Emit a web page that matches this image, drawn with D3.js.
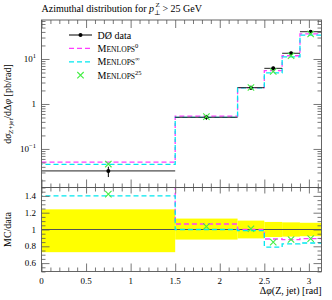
<!DOCTYPE html>
<html><head><meta charset="utf-8">
<script src="https://cdn.jsdelivr.net/npm/d3@7"></script>
<style>body{margin:0;background:#fff}svg{display:block;font-family:"Liberation Serif","DejaVu Serif",serif}</style>
</head><body><svg id="c" width="332" height="300"></svg>
<script>
// ---- data ----
const binEdges=[0,1.5,2.2,2.5,2.7,2.9,Math.PI];
const binCentres=[0.75,1.85,2.35,2.6,2.8,3.02];
const dataVals=[0.0325,0.506,2.3,6.2,13.4,40.4];
const dataErrUp=[0.24,0.13,0.106,0.09,0.085,0.08];   // relative
const dataErrDn=[0.27,0.12,0.106,0.09,0.085,0.08];   // relative
const mc0Vals=[0.0507,0.539,2.3,5.5,11.8,36.0];
const mcInfVals=[0.0455,0.506,2.27,4.9,11.1,33.9];
const mc25Vals=[0.0462,0.524,2.32,5.27,11.8,36.0];
const xMajorTicks=[0,0.5,1,1.5,2,2.5,3];
const yMajorTicks=[10,1,0.1];
const yMajorBase=["10","1","10"];
const yMajorExp=["1","","−1"];
const ratioTicks=[0.6,0.8,1,1.2,1.4];

const svg=d3.select("#c");
const L=41.5,R=321.5,T1=20,B1=187.5,T2=187.5,B2=271.5;
const x=d3.scaleLinear().domain([0,Math.PI]).range([L,R]);
const y=d3.scaleLog().domain([0.0139,73.6]).range([B1,T1]);
const yr=d3.scaleLinear().domain([0.5,1.5]).range([B2,T2]);
const C0="#ff3cff",CI="#00e8f0",C25="#44ee44",AX="#555";

const defs=svg.append("defs");
defs.append("clipPath").attr("id","cp1").append("rect").attr("x",L).attr("y",T1).attr("width",R-L).attr("height",B1-T1);
defs.append("clipPath").attr("id","cp2").append("rect").attr("x",L).attr("y",T2).attr("width",R-L).attr("height",B2-T2);

const bins=dataVals.map((v,i)=>({i,lo:binEdges[i],hi:binEdges[i+1],c:binCentres[i],v}));

function stepPath(vals,ys){
  let p="";
  vals.forEach((v,i)=>{
    const x0=x(binEdges[i]),x1=x(binEdges[i+1]),yy=ys(v);
    p+=(i===0?"M":"L")+x0+","+yy+"L"+x1+","+yy;
  });
  return p;
}
function cross(g,cx,cy){
  const s=3.2;
  g.append("path").attr("d",`M${cx-s},${cy-s}L${cx+s},${cy+s}M${cx-s},${cy+s}L${cx+s},${cy-s}`)
   .attr("stroke",C25).attr("stroke-width",1.1).attr("fill","none");
}

// ---- top panel ----
const g1=svg.append("g").attr("clip-path","url(#cp1)");
g1.append("path").attr("d",stepPath(mc0Vals,y)).attr("fill","none").attr("stroke",C0).attr("stroke-width",1.3).attr("stroke-dasharray","5,3");
g1.append("path").attr("d",stepPath(mcInfVals,y)).attr("fill","none").attr("stroke",CI).attr("stroke-width",1.3).attr("stroke-dasharray","5,3").attr("stroke-dashoffset",4);
bins.forEach(b=>{
  g1.append("line").attr("x1",x(b.lo)).attr("x2",x(b.hi)).attr("y1",y(b.v)).attr("y2",y(b.v)).attr("stroke","#222").attr("stroke-width",1);
  g1.append("line").attr("x1",x(b.c)).attr("x2",x(b.c)).attr("y1",y(b.v*(1+dataErrUp[b.i]))).attr("y2",y(b.v*(1-dataErrDn[b.i]))).attr("stroke","#000").attr("stroke-width",1);
  g1.append("circle").attr("cx",x(b.c)).attr("cy",y(b.v)).attr("r",2).attr("fill","#000");
  cross(g1,x(b.c),y(mc25Vals[b.i]));
});

// ---- ratio panel ----
const g2=svg.append("g").attr("clip-path","url(#cp2)");
bins.forEach(b=>{
  g2.append("rect").attr("x",x(b.lo)).attr("width",x(b.hi)-x(b.lo))
   .attr("y",yr(1+dataErrUp[b.i])).attr("height",yr(1-dataErrDn[b.i])-yr(1+dataErrUp[b.i])).attr("fill","#ffff00");
});
g2.append("line").attr("x1",L).attr("x2",R).attr("y1",yr(1)).attr("y2",yr(1)).attr("stroke","#555").attr("stroke-width",1);
g2.append("path").attr("d",stepPath(mc0Vals.map((v,i)=>v/dataVals[i]),yr)).attr("fill","none").attr("stroke",C0).attr("stroke-width",1.3).attr("stroke-dasharray","5,3");
g2.append("path").attr("d",stepPath(mcInfVals.map((v,i)=>v/dataVals[i]),yr)).attr("fill","none").attr("stroke",CI).attr("stroke-width",1.3).attr("stroke-dasharray","5,3").attr("stroke-dashoffset",4);
bins.forEach(b=>cross(g2,x(b.c),yr(mc25Vals[b.i]/b.v)));

// ---- axes / frames ----
function minorLog(){const a=[];for(let e=-2;e<=1;e++)for(let k=2;k<=9;k++){const v=k*Math.pow(10,e);if(v>=0.0139&&v<=73.6)a.push(v);}return a;}
const xMinor=d3.range(0,3.15,0.1).filter(v=>Math.abs(v*2-Math.round(v*2))>1e-6);
const rMinor=d3.range(0.5,1.501,0.05).filter(v=>Math.abs(v*5-Math.round(v*5))>1e-6);

function ticks(axisFn,scale,vals,size,tx,ty){
  const g=svg.append("g").attr("transform",`translate(${tx},${ty})`)
    .call(axisFn(scale).tickValues(vals).tickSize(size).tickFormat(""));
  g.select(".domain").remove();
  g.selectAll("line").attr("stroke",AX).attr("stroke-width",0.8);
  return g;
}
[[T1,d3.axisTop,-8],[B1,d3.axisBottom,-8],[T2,d3.axisTop,-6],[B2,d3.axisBottom,-8]].forEach(([yy,fn,s])=>{
  ticks(fn,x,xMajorTicks,s,0,yy);
  ticks(fn,x,xMinor,-4,0,yy);
});
ticks(d3.axisLeft,y,yMajorTicks,-8,L,0);
ticks(d3.axisLeft,y,minorLog(),-4,L,0);
ticks(d3.axisRight,y,yMajorTicks,-8,R,0);
ticks(d3.axisRight,y,minorLog(),-4,R,0);
ticks(d3.axisLeft,yr,ratioTicks,-8,L,0);
ticks(d3.axisLeft,yr,rMinor,-4,L,0);
ticks(d3.axisRight,yr,ratioTicks,-8,R,0);
ticks(d3.axisRight,yr,rMinor,-4,R,0);

svg.append("rect").attr("x",L).attr("y",T1).attr("width",R-L).attr("height",B1-T1).attr("fill","none").attr("stroke",AX).attr("stroke-width",0.9);
svg.append("rect").attr("x",L).attr("y",T2).attr("width",R-L).attr("height",B2-T2).attr("fill","none").attr("stroke",AX).attr("stroke-width",0.9);

// ---- labels ----
const fs=10;
xMajorTicks.forEach(v=>svg.append("text").attr("x",x(v)).attr("y",284).attr("text-anchor","middle").attr("font-size",9).text(d3.format("~g")(v)));
ratioTicks.forEach(v=>svg.append("text").attr("x",36).attr("y",yr(v)+3).attr("text-anchor","end").attr("font-size",9).text(d3.format("~g")(v)));
yMajorTicks.forEach((v,i)=>{
  const t=svg.append("text").attr("x",36).attr("y",y(v)+3).attr("text-anchor","end").attr("font-size",9);
  t.append("tspan").text(yMajorBase[i]);
  if(yMajorExp[i]) t.append("tspan").attr("dy",-4).attr("font-size",6.5).text(yMajorExp[i]);
});

svg.append("text").attr("x",R).attr("y",294).attr("text-anchor","end").attr("font-size",fs)
  .html('Δ<tspan font-style="italic">φ</tspan>(Z, jet) [rad]');

// title
const tt=svg.append("text").attr("x",L).attr("y",12).attr("font-size",fs);
tt.append("tspan").text("Azimuthal distribution for ");
tt.append("tspan").attr("font-style","italic").text("p");
tt.append("tspan").attr("font-size",7).attr("dy",3).text("⊥");
tt.append("tspan").attr("font-size",7).attr("dx",-5).attr("dy",-8).text("Z");
tt.append("tspan").attr("dy",5).text(" > 25 GeV");

// y labels
const yl=svg.append("text").attr("transform","translate(11,104) rotate(-90)").attr("text-anchor","middle").attr("font-size",fs);
yl.append("tspan").text("d");
yl.append("tspan").attr("font-style","italic").text("σ");
yl.append("tspan").attr("font-size",7).attr("dy",2).text("Z+jet");
yl.append("tspan").attr("dy",-2).text("/dΔ");
yl.append("tspan").attr("font-style","italic").text("φ");
yl.append("tspan").text(" [pb/rad]");
svg.append("text").attr("transform","translate(11,229.5) rotate(-90)").attr("text-anchor","middle").attr("font-size",fs).text("MC/data");

// legend
const legTypes=["data","mc0","mcinf","mc25"];
const legLabels=["DØ data","Menlops","Menlops","Menlops"];
const legSups=["","0","∞","25"];
legTypes.forEach((type,i)=>{
  const yy=35+i*13.4;
  if(type==="data"){
    svg.append("line").attr("x1",69).attr("x2",92).attr("y1",yy).attr("y2",yy).attr("stroke","#000");
    svg.append("circle").attr("cx",80.5).attr("cy",yy).attr("r",2).attr("fill","#000");
  }else if(type==="mc0"||type==="mcinf"){
    svg.append("line").attr("x1",69).attr("x2",92).attr("y1",yy).attr("y2",yy).attr("stroke",type==="mc0"?C0:CI).attr("stroke-width",1.3).attr("stroke-dasharray","5,3");
  }else{
    cross(svg.append("g"),80.5,yy);
  }
  const t=svg.append("text").attr("x",97.5).attr("y",yy+3.5).attr("font-size",fs);
  if(legSups[i]){
    t.append("tspan").text(legLabels[i].slice(0,1));
    t.append("tspan").attr("font-size",7.6).text(legLabels[i].slice(1).toUpperCase());
    t.append("tspan").attr("font-size",6.5).attr("dy",-4).text(legSups[i]);
  }else t.text(legLabels[i]);
});
</script></body></html>
